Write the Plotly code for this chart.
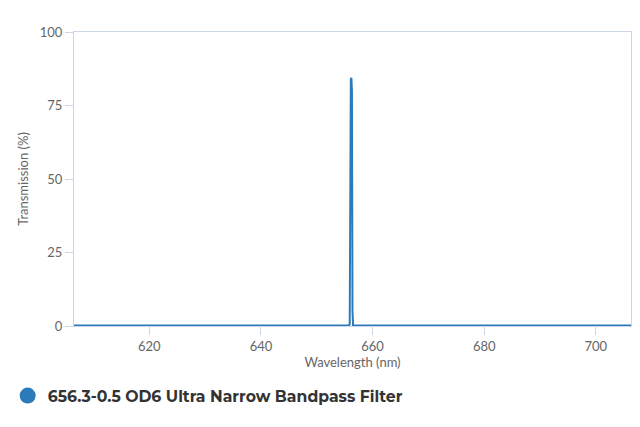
import plotly.graph_objects as go

series_name = "656.3-0.5 OD6 Ultra Narrow Bandpass Filter"
wavelength_nm = [606.5, 620.0, 640.0, 655.7, 655.9, 656.0, 656.1, 656.2, 656.3, 656.4, 656.5, 660.0, 680.0, 700.0, 706.3]
transmission_pct = [0.2, 0.2, 0.2, 0.2, 0.5, 60.0, 84.0, 84.4, 80.0, 5.0, 0.2, 0.2, 0.2, 0.2, 0.2]
x_ticks = [620, 640, 660, 680, 700]
y_ticks = [0, 25, 50, 75, 100]

color = "#2b7bbb"
axis_col = "#ccd6eb"
text_col = "#666666"

fig = go.Figure()
fig.add_trace(go.Scatter(x=wavelength_nm, y=transmission_pct, mode="lines",
                         line=dict(color=color, width=2), showlegend=False,
                         hoverinfo="x+y"))
fig.add_trace(go.Scatter(x=[None], y=[None], mode="markers", name=series_name,
                         marker=dict(color=color, size=16, symbol="circle"),
                         showlegend=True))

fig.update_layout(
    width=640, height=427,
    margin=dict(l=74, r=9, t=32, b=101),
    paper_bgcolor="white", plot_bgcolor="white",
    font=dict(family="Lato, 'Open Sans', sans-serif", color=text_col, size=13),
    xaxis=dict(range=[606.5, 706.3], tickvals=x_ticks, showgrid=False, zeroline=False,
               showline=True, linecolor=axis_col, linewidth=1, mirror=True,
               ticks="outside", ticklen=8, tickcolor=axis_col,
               title=dict(text="Wavelength (nm)", font=dict(size=13, color=text_col), standoff=2),
               tickfont=dict(size=13, color=text_col)),
    yaxis=dict(range=[0, 100], tickvals=y_ticks, showgrid=False, zeroline=False,
               showline=True, linecolor=axis_col, linewidth=1, mirror=True,
               ticks="outside", ticklen=8, tickcolor=axis_col,
               title=dict(text="Transmission (%)", font=dict(size=13, color=text_col), standoff=8),
               tickfont=dict(size=13, color=text_col)),
    legend=dict(orientation="h", xref="container", yref="container",
                x=0.012, y=0.073, xanchor="left", yanchor="middle",
                font=dict(family="Montserrat, 'Open Sans', sans-serif", size=15.7, color="#333333", weight="bold"),
                itemsizing="trace", bgcolor="rgba(0,0,0,0)"),
)

fig.write_html("out.html", config={"displayModeBar": False},
               post_script="document.body.style.margin='0';document.body.style.padding='0';")
